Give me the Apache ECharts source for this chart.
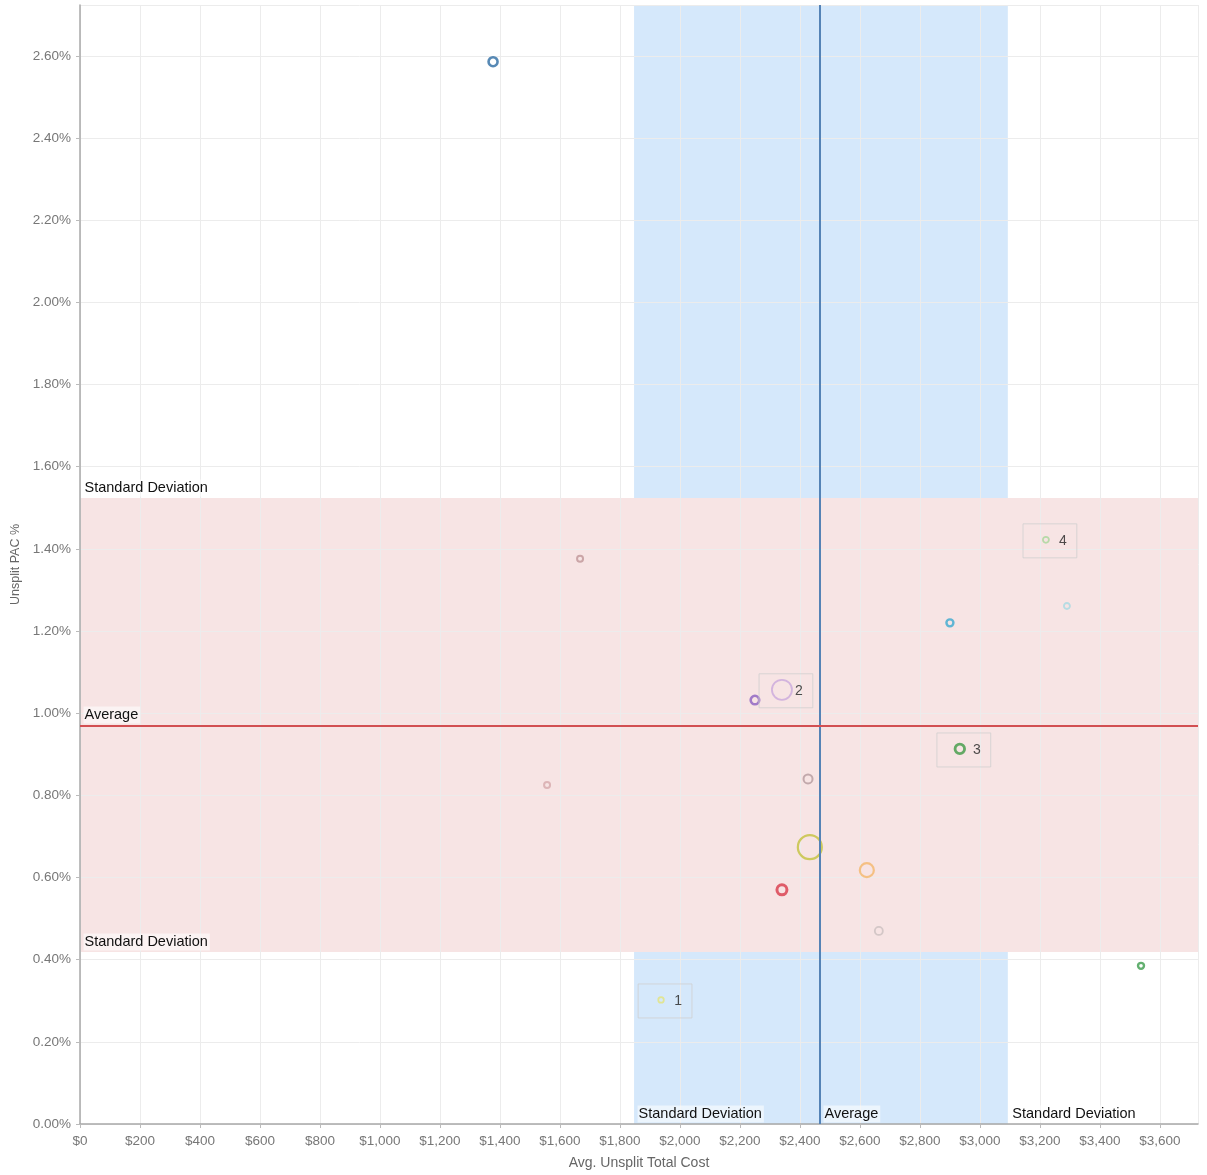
<!DOCTYPE html>
<html>
<head>
<meta charset="utf-8">
<script src="https://cdn.jsdelivr.net/npm/echarts@6/dist/echarts.min.js"></script>
<style>
  html, body { margin: 0; padding: 0; background: #fff; }
  #chart { width: 1207px; height: 1175px; }
</style>
</head>
<body>
<div id="chart"></div>
<script>
// ---- Data ----
const avgTotalCost = [1377, 1667, 1557, 2250, 2340, 2427, 2433, 2340, 2623, 2663, 1937, 2900, 2933, 3220, 3290, 3537];
const pacPercent   = [2.586, 1.376, 0.825, 1.032, 1.057, 0.840, 0.674, 0.570, 0.618, 0.470, 0.302, 1.220, 0.913, 1.422, 1.261, 0.385];
const annotations  = ['', '', '', '', '2', '', '', '', '', '', '1', '', '3', '4', '', ''];

// Reference lines / bands
const costBand = { low: 1847, avg: 2467, high: 3093 };
const pacBand  = { low: 0.419, avg: 0.971, high: 1.524 };
const bandLabels = { sd: 'Standard Deviation', avg: 'Average' };

// Axes
const xAxisTitle = 'Avg. Unsplit Total Cost';
const yAxisTitle = 'Unsplit PAC %';

// ---- Styles (kept separate from data) ----
const ringColors = ['#2d6ba3', '#bf9597', '#d6a9ab', '#8b5fc0', '#c9a8dc', '#b49a9e', '#c3c23c', '#d83a4a',
                    '#f4b66a', '#cbbfbf', '#e4e47a', '#3aa9d0', '#3f9a45', '#a6d79a', '#a5d9e2', '#3c9c4c'];
const ringSizes  = [9, 6, 6, 8.5, 20, 9, 24, 10, 14, 8, 5.5, 7, 9.5, 6, 6, 6];
const ringWidths = [2.6, 2, 2, 2.6, 1.8, 2, 2.2, 3, 2.2, 1.8, 1.8, 2.4, 2.8, 1.8, 1.8, 2.4];

function money(v) {
  const s = String(Math.round(v));
  return '$' + s.replace(/\B(?=(\d{3})+(?!\d))/g, ',');
}

const FONT = '"Liberation Sans", Arial, sans-serif';

const points = avgTotalCost.map((x, i) => {
  const item = {
    value: [x, pacPercent[i]],
    symbolSize: ringSizes[i],
    itemStyle: { color: 'rgba(0,0,0,0)', borderColor: ringColors[i], borderWidth: ringWidths[i] }
  };
  if (annotations[i]) {
    item.label = {
      show: true,
      formatter: annotations[i],
      position: 'inside',
      offset: [4, 1],
      padding: [10, 10, 10, 36],
      borderColor: '#cfcfcf',
      borderWidth: 1,
      color: '#222',
      fontSize: 14,
      fontFamily: FONT
    };
  }
  return item;
});

const bandLabelStyle = {
  show: true,
  position: 'right',
  distance: 0,
  color: '#111',
  fontSize: 14.5,
  fontFamily: FONT,
  backgroundColor: 'rgba(255,255,255,0.55)',
  padding: [1, 2, 1, 1]
};

const chart = echarts.init(document.getElementById('chart'), null, { renderer: 'canvas' });
chart.setOption({
  animation: false,
  backgroundColor: '#ffffff',
  grid: { left: 80, right: 9, top: 5, bottom: 51, containLabel: false },
  xAxis: {
    type: 'value',
    min: 0, max: 3727, interval: 200,
    z: 1.5,
    name: xAxisTitle,
    nameLocation: 'middle',
    nameGap: 32,
    nameTextStyle: { color: '#666', fontSize: 14, fontFamily: FONT },
    axisLine: { show: true, onZero: false, lineStyle: { color: '#a8a8a8', width: 1.5 } },
    axisTick: { show: true, length: 4, lineStyle: { color: '#bbb' } },
    axisLabel: { color: '#777', fontSize: 13.5, fontFamily: FONT, margin: 10, showMaxLabel: false, formatter: money },
    splitLine: { show: true, lineStyle: { color: '#ececec', width: 1 } }
  },
  yAxis: {
    type: 'value',
    min: 0, max: 2.724, interval: 0.2,
    z: 1.5,
    name: yAxisTitle,
    nameLocation: 'middle',
    nameGap: 56,
    nameRotate: 90,
    nameTextStyle: { color: '#666', fontSize: 12.5, fontFamily: FONT },
    axisLine: { show: true, onZero: false, lineStyle: { color: '#a8a8a8', width: 1.5 } },
    axisTick: { show: true, length: 4, lineStyle: { color: '#bbb' } },
    axisLabel: { color: '#777', fontSize: 13.5, fontFamily: FONT, margin: 9, showMaxLabel: false,
                 formatter: v => v.toFixed(2) + '%' },
    splitLine: { show: true, lineStyle: { color: '#ececec', width: 1 } }
  },
  series: [
    {
      name: 'costBand',
      type: 'scatter',
      data: [],
      markArea: {
        silent: true,
        z: 1,
        itemStyle: { color: '#d5e8fb' },
        data: [[{ xAxis: costBand.low }, { xAxis: costBand.high }]]
      }
    },
    {
      name: 'pacBand',
      type: 'scatter',
      data: [],
      markArea: {
        silent: true,
        z: 1.2,
        itemStyle: { color: '#f7e4e4' },
        data: [[{ yAxis: pacBand.low }, { yAxis: pacBand.high }]]
      }
    },
    {
      name: 'refLines',
      type: 'scatter',
      data: [],
      markLine: {
        silent: true,
        symbol: 'none',
        label: { show: false },
        data: [
          { xAxis: costBand.avg, lineStyle: { color: '#5583b6', width: 2, type: 'solid' } },
          { yAxis: pacBand.avg, lineStyle: { color: '#d24f52', width: 2, type: 'solid' } }
        ]
      },
      markPoint: {
        silent: true,
        symbol: 'circle',
        symbolSize: 1,
        itemStyle: { color: 'rgba(0,0,0,0)' },
        data: [
          { coord: [0, pacBand.high], label: Object.assign({}, bandLabelStyle, { formatter: bandLabels.sd, offset: [3, -10] }) },
          { coord: [0, pacBand.avg],  label: Object.assign({}, bandLabelStyle, { formatter: bandLabels.avg, offset: [3, -10] }) },
          { coord: [0, pacBand.low],  label: Object.assign({}, bandLabelStyle, { formatter: bandLabels.sd, offset: [3, -10] }) },
          { coord: [costBand.low, 0],  label: Object.assign({}, bandLabelStyle, { formatter: bandLabels.sd, offset: [3, -10] }) },
          { coord: [costBand.avg, 0],  label: Object.assign({}, bandLabelStyle, { formatter: bandLabels.avg, offset: [3, -10] }) },
          { coord: [costBand.high, 0], label: Object.assign({}, bandLabelStyle, { formatter: bandLabels.sd, offset: [3, -10] }) }
        ]
      }
    },
    {
      name: 'clients',
      type: 'scatter',
      z: 3,
      symbol: 'circle',
      data: points
    }
  ]
});
</script>
</body>
</html>
